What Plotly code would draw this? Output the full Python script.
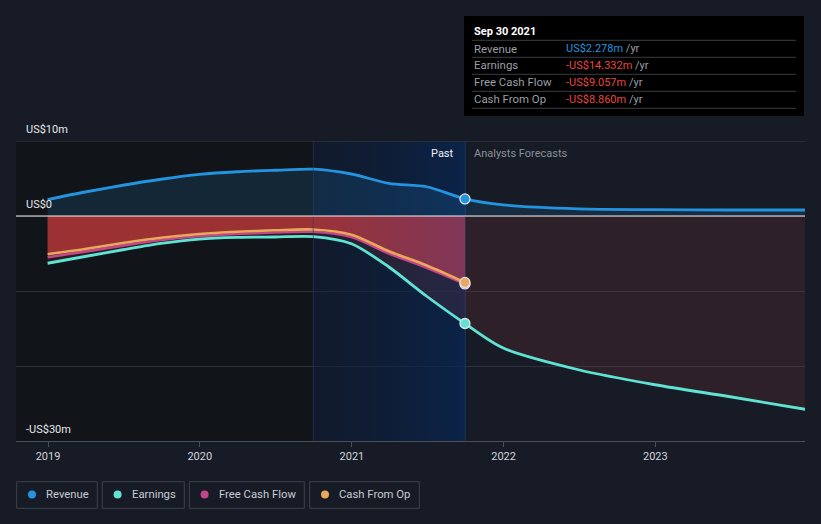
import plotly.graph_objects as go

# ---------------- data (US$ millions) ----------------
past_dates = ["2018-12-31", "2019-03-31", "2019-06-30", "2019-09-30", "2019-12-31",
              "2020-03-31", "2020-06-30", "2020-09-30", "2020-12-31", "2021-03-31",
              "2021-06-30", "2021-09-30"]
revenue_past = [2.2, 3.2, 4.1, 4.9, 5.55, 5.9, 6.1, 6.25, 5.6, 4.35, 3.9, 2.278]
earnings_past = [-6.3, -5.4, -4.5, -3.65, -3.07, -2.85, -2.8, -2.75, -3.7, -6.8, -10.7, -14.332]
fcf_past = [-5.5, -4.75, -3.95, -3.2, -2.7, -2.4, -2.2, -2.1, -2.8, -5.0, -6.9, -9.057]
cfo_past = [-5.1, -4.4, -3.6, -2.9, -2.4, -2.1, -1.9, -1.8, -2.5, -4.7, -6.6, -8.86]

forecast_dates = ["2021-09-30", "2021-12-31", "2022-06-30", "2022-12-31", "2023-06-30", "2023-12-31"]
revenue_fc = [2.278, 1.47, 0.95, 0.85, 0.8, 0.8]
earnings_fc = [-14.332, -17.6, -20.5, -22.5, -24.1, -25.8]

tick_dates = ["2019-01-01", "2020-01-01", "2021-01-01", "2022-01-01", "2023-01-01"]
tick_labels = ["2019", "2020", "2021", "2022", "2023"]
y_ticks = [-30, -20, -10, 0, 10]

x_range = ["2018-10-16", "2023-12-27"]
highlight_start = "2020-09-30"
past_end = "2021-09-30"

tooltip_title = "Sep 30 2021"
tooltip_rows = [("Revenue", "US$2.278m", "#2394df"),
                ("Earnings", "-US$14.332m", "#e8453f"),
                ("Free Cash Flow", "-US$9.057m", "#e8453f"),
                ("Cash From Op", "-US$8.860m", "#e8453f")]

series_names = ["Revenue", "Earnings", "Free Cash Flow", "Cash From Op"]
C_REV = "#2394df"
C_EARN = "#5fe3d3"
C_FCF = "#c4458a"
C_CFO = "#e9a85b"
series_colors = [C_REV, C_EARN, C_FCF, C_CFO]

# ---------------- geometry helpers ----------------
W, H = 821, 524
L, R, T, B = 16, 16, 141, 83
PW = W - L - R
PH = H - T - B


def px(x):
    return (x - L) / PW


def py(y):
    return (H - B - y) / PH


BG = "#161b26"
FONT = "Roboto, Arial, sans-serif"

all_dates = past_dates + forecast_dates[1:]
all_rev = revenue_past + revenue_fc[1:]
all_earn = earnings_past + earnings_fc[1:]

fig = go.Figure()

# highlight band (past 12 months) with horizontal gradient
fig.add_trace(go.Scatter(
    x=[highlight_start, past_end, past_end, highlight_start, highlight_start],
    y=[-30, -30, 10, 10, -30], mode="lines", line=dict(width=0),
    fill="toself",
    fillgradient=dict(type="horizontal",
                      colorscale=[[0, "rgba(8,25,55,0.35)"], [1, "rgba(8,38,82,0.78)"]]),
    hoverinfo="skip", showlegend=False))

# earnings area (zero to earnings) faint red tint
fig.add_trace(go.Scatter(
    x=all_dates, y=all_earn, mode="lines", line=dict(width=0, shape="spline", smoothing=0.8),
    fill="tozeroy", fillcolor="rgba(182,67,60,0.15)", hoverinfo="skip", showlegend=False))

# cash-from-op area in past (red gradient)
fig.add_trace(go.Scatter(
    x=past_dates, y=cfo_past, mode="lines", line=dict(width=0, shape="spline", smoothing=0.8),
    fill="tozeroy",
    fillgradient=dict(type="horizontal",
                      colorscale=[[0, "rgba(200,58,58,0.72)"], [0.64, "rgba(200,58,60,0.72)"],
                                  [0.8, "rgba(195,62,78,0.66)"], [1, "rgba(190,65,100,0.6)"]]),
    hoverinfo="skip", showlegend=False))

# revenue area
fig.add_trace(go.Scatter(
    x=all_dates, y=all_rev, mode="lines", line=dict(width=0, shape="spline", smoothing=0.8),
    fill="tozeroy", fillcolor="rgba(35,148,223,0.15)", hoverinfo="skip", showlegend=False))

# lines
fig.add_trace(go.Scatter(x=past_dates, y=fcf_past, mode="lines",
                         line=dict(color=C_FCF, width=2.6, shape="spline", smoothing=0.8),
                         name="Free Cash Flow", showlegend=False))
fig.add_trace(go.Scatter(x=past_dates, y=cfo_past, mode="lines",
                         line=dict(color=C_CFO, width=2.6, shape="spline", smoothing=0.8),
                         name="Cash From Op", showlegend=False))
fig.add_trace(go.Scatter(x=all_dates, y=all_earn, mode="lines",
                         line=dict(color=C_EARN, width=2.8, shape="spline", smoothing=0.8),
                         name="Earnings", showlegend=False))
fig.add_trace(go.Scatter(x=all_dates, y=all_rev, mode="lines",
                         line=dict(color=C_REV, width=2.8, shape="spline", smoothing=0.8),
                         name="Revenue", showlegend=False))

# end-of-past markers
mk_vals = [revenue_past[-1], earnings_past[-1], fcf_past[-1], cfo_past[-1]]
mk_cols = [C_REV, C_EARN, C_FCF, C_CFO]
for v, c in zip(mk_vals, mk_cols):
    fig.add_trace(go.Scatter(x=[past_end], y=[v], mode="markers",
                             marker=dict(size=10, color=c, line=dict(color="#dfe3ea", width=1.3)),
                             hoverinfo="skip", showlegend=False))

shapes = []
# dark past region
shapes.append(dict(type="rect", xref="x", yref="y", x0=x_range[0], x1=highlight_start,
                   y0=-30, y1=10, fillcolor="#111419", line=dict(width=0), layer="below"))
# vertical lines
shapes.append(dict(type="line", xref="x", yref="y", x0=highlight_start, x1=highlight_start,
                   y0=-30, y1=10, line=dict(color="rgba(40,60,95,0.6)", width=1), layer="above"))
shapes.append(dict(type="line", xref="x", yref="y", x0=past_end, x1=past_end,
                   y0=-30, y1=10, line=dict(color="#1c3d6e", width=1.2), layer="below"))
# top grid line (US$10m)
shapes.append(dict(type="line", xref="paper", yref="y", x0=0, x1=1, y0=10, y1=10,
                   line=dict(color="#3a3f48", width=1), layer="above"))
# zero line
shapes.append(dict(type="line", xref="paper", yref="y", x0=0, x1=1, y0=0, y1=0,
                   line=dict(color="#f2eeee", width=1.2), layer="above"))

annotations = []
# y labels
for txt, yy in [("US$10m", 129), ("US$0", 204), ("-US$30m", 429)]:
    annotations.append(dict(x=px(24), y=py(yy), xref="paper", yref="paper", text=txt,
                            showarrow=False, xanchor="left", yanchor="middle",
                            font=dict(family=FONT, size=11, color="#e6e8ec")))
# past / forecast labels
annotations.append(dict(x=px(456), y=py(153), xref="paper", yref="paper", text="Past",
                        showarrow=False, xanchor="right", yanchor="middle",
                        font=dict(family=FONT, size=11, color="#f0f2f5")))
annotations.append(dict(x=px(472), y=py(153), xref="paper", yref="paper",
                        text="Analysts Forecasts", showarrow=False, xanchor="left",
                        yanchor="middle", font=dict(family=FONT, size=11, color="#8b9099")))

# tooltip box
shapes.append(dict(type="rect", xref="paper", yref="paper", x0=px(464), x1=px(804),
                   y0=py(116), y1=py(16), fillcolor="#000000", line=dict(width=0),
                   layer="above"))
annotations.append(dict(x=px(472), y=py(31.5), xref="paper", yref="paper",
                        text="<b>%s</b>" % tooltip_title, showarrow=False, xanchor="left",
                        yanchor="middle", font=dict(family=FONT, size=11, color="#ffffff")))
sep_y = [40.3, 57.3, 74.3, 91.3, 108.3]
for sy in sep_y:
    shapes.append(dict(type="line", xref="paper", yref="paper", x0=px(472), x1=px(796),
                       y0=py(sy), y1=py(sy), line=dict(color="#3a3c40", width=1),
                       layer="above"))
for i, (lab, val, col) in enumerate(tooltip_rows):
    yy = sep_y[i] + 8.2
    annotations.append(dict(x=px(472), y=py(yy), xref="paper", yref="paper", text=lab,
                            showarrow=False, xanchor="left", yanchor="middle",
                            font=dict(family=FONT, size=11.4, color="#9a9ea5")))
    annotations.append(dict(x=px(564), y=py(yy), xref="paper", yref="paper",
                            text="<span style='color:%s'>%s</span> /yr" % (col, val),
                            showarrow=False, xanchor="left", yanchor="middle",
                            font=dict(family=FONT, size=11, color="#9a9ea5")))

# custom legend
leg_boxes = [(16.7, 97.3), (102.3, 184.3), (189.3, 304.3), (309.7, 419.3)]
for (x0, x1), name, col in zip(leg_boxes, series_names, series_colors):
    shapes.append(dict(type="rect", xref="paper", yref="paper", x0=px(x0), x1=px(x1),
                       y0=py(508.3), y1=py(481.7), line=dict(color="#3c414b", width=1),
                       fillcolor="rgba(0,0,0,0)"))
    cx, cy, r = x0 + 15.3, 494.5, 4
    shapes.append(dict(type="circle", xref="paper", yref="paper", x0=px(cx - r),
                       x1=px(cx + r), y0=py(cy + r), y1=py(cy - r), fillcolor=col,
                       line=dict(width=0)))
    annotations.append(dict(x=px(x0 + 27.5), y=py(494.5), xref="paper", yref="paper",
                            text=name, showarrow=False, xanchor="left", yanchor="middle",
                            font=dict(family=FONT, size=11.3, color="#c9ccd2")))

fig.update_layout(
    width=W, height=H,
    margin=dict(l=L, r=R, t=T, b=B),
    paper_bgcolor=BG, plot_bgcolor=BG,
    shapes=shapes, annotations=annotations,
    showlegend=False,
    xaxis=dict(type="date", range=x_range, tickvals=tick_dates, ticktext=tick_labels,
               showgrid=False, zeroline=False, showline=True, linecolor="#4a4f59",
               linewidth=1.2, ticks="outside", ticklen=5, tickcolor="#4a4f59",
               tickfont=dict(family=FONT, size=11, color="#d2d5da"), fixedrange=True),
    yaxis=dict(range=[-30, 10], tickvals=y_ticks, showticklabels=False, showgrid=True,
               gridcolor="#2d323b", gridwidth=1, zeroline=False, fixedrange=True),
)

fig.write_html("out.html", config={"displayModeBar": False},
               post_script="document.body.style.margin='0';document.body.style.overflow='hidden';")
